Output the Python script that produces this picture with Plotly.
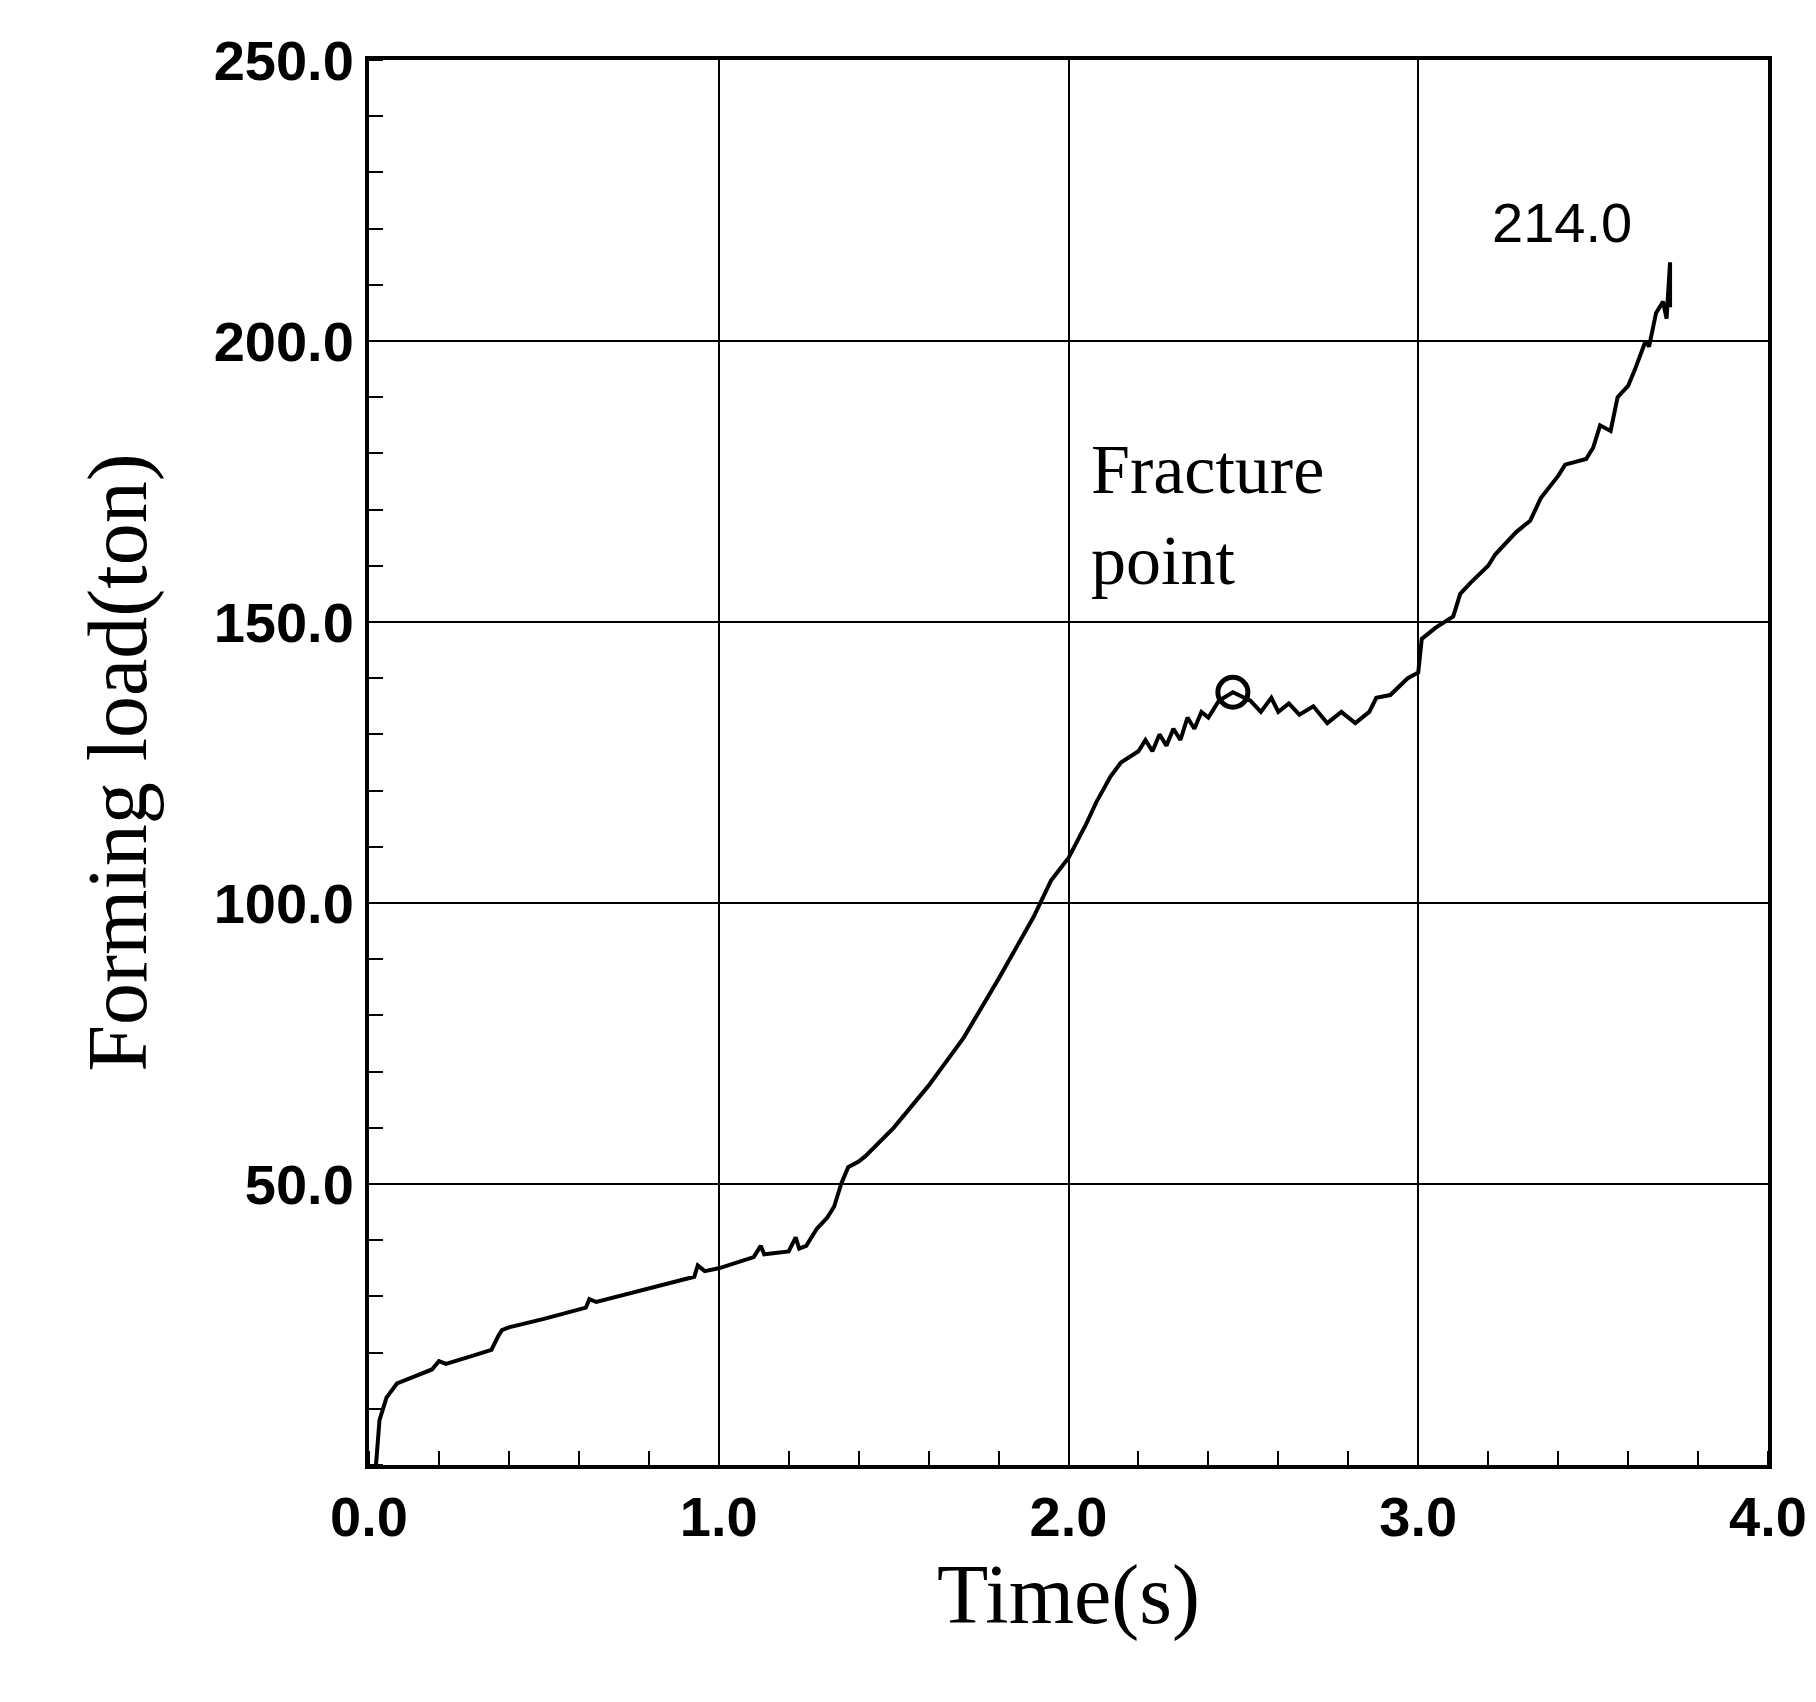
import plotly.graph_objects as go

# Forming load curve
time_s = [0.02, 0.03, 0.05, 0.08, 0.12, 0.18, 0.2, 0.22, 0.3, 0.33, 0.35, 0.37, 0.38, 0.4, 0.5,
          0.62, 0.63, 0.65, 0.8, 0.93, 0.94, 0.96, 1.0, 1.1, 1.12, 1.13, 1.2, 1.22, 1.23, 1.25,
          1.28, 1.31, 1.33, 1.35, 1.37, 1.4, 1.42, 1.5, 1.6, 1.7, 1.8, 1.9, 1.95, 2.0, 2.05,
          2.08, 2.12, 2.15, 2.2, 2.22, 2.24, 2.26, 2.28, 2.3, 2.32, 2.34, 2.36, 2.38, 2.4, 2.43,
          2.47, 2.52, 2.55, 2.58, 2.6, 2.63, 2.66, 2.7, 2.74, 2.78, 2.82, 2.86, 2.88, 2.92, 2.97,
          3.0, 3.01, 3.05, 3.1, 3.12, 3.15, 3.2, 3.22, 3.28, 3.32, 3.35, 3.4, 3.42, 3.48, 3.5,
          3.52, 3.55, 3.57, 3.6, 3.62, 3.65, 3.66, 3.68, 3.7, 3.71, 3.72, 3.72]
load_ton = [0, 8, 12, 14.5, 15.5, 17, 18.5, 18, 19.5, 20, 20.5, 23, 24, 24.5, 26,
            28, 29.5, 29, 31.5, 33.5, 35.5, 34.5, 35, 37, 39, 37.5, 38, 40.5, 38.5, 39,
            42, 44, 46, 50, 53, 54, 55, 60, 67.5, 76, 86.5, 97.5, 104, 108, 114,
            118, 122.5, 125, 127, 129, 127, 130, 128, 131, 129, 133, 131, 134, 133, 136,
            137.5, 136, 134, 136.5, 134, 135.5, 133.5, 135, 132, 134, 132, 134, 136.5, 137, 140,
            141, 147, 149, 151, 155, 157, 160, 162, 166, 168, 172, 176, 178, 179, 181,
            185, 184, 190, 192, 195, 200, 199, 205, 207, 204, 214, 206]

fracture_t = [2.47]
fracture_load = [137.5]

fig = go.Figure()
fig.add_trace(go.Scatter(x=time_s, y=load_ton, mode="lines",
                         line=dict(color="black", width=4), showlegend=False))
fig.add_trace(go.Scatter(x=fracture_t, y=fracture_load, mode="markers",
                         marker=dict(symbol="circle-open", size=30, color="black",
                                     line=dict(width=5, color="black")),
                         showlegend=False))

fig.add_annotation(x=3.41, y=221, text="214.0", showarrow=False,
                   font=dict(family="Liberation Sans", size=56, color="black"))
fig.add_annotation(x=2.06, y=169, text="Fracture<br>point", showarrow=False, xanchor="left",
                   align="left", font=dict(family="Liberation Serif", size=70, color="black"))

tick_font = dict(family="Liberation Sans", size=56, color="black")
fig.update_xaxes(range=[0, 4], tickvals=[0, 1, 2, 3, 4],
                 ticktext=["<b>0.0</b>", "<b>1.0</b>", "<b>2.0</b>", "<b>3.0</b>", "<b>4.0</b>"],
                 tickfont=tick_font, showgrid=True, gridcolor="black", gridwidth=1.5,
                 showline=True, linecolor="black", linewidth=4, mirror=True, zeroline=False,
                 ticks="", minor=dict(dtick=0.2, ticks="inside", ticklen=14, tickcolor="black",
                                      tickwidth=1.5, showgrid=False),
                 title=dict(text="Time(s)", font=dict(family="Liberation Serif", size=84, color="black"),
                            standoff=0))
fig.update_yaxes(range=[0, 250], tickvals=[50, 100, 150, 200, 250],
                 ticktext=["<b>50.0</b>", "<b>100.0</b>", "<b>150.0</b>", "<b>200.0</b>", "<b>250.0</b>"],
                 tickfont=tick_font, showgrid=True, gridcolor="black", gridwidth=1.5,
                 showline=True, linecolor="black", linewidth=4, mirror=True, zeroline=False,
                 ticks="", minor=dict(dtick=10, ticks="inside", ticklen=14, tickcolor="black",
                                      tickwidth=1.5, showgrid=False),
                 title=dict(text="Forming load(ton)", font=dict(family="Liberation Serif", size=84, color="black"),
                            standoff=40))
fig.update_layout(width=1816, height=1702, plot_bgcolor="white", paper_bgcolor="white",
                  margin=dict(l=361, r=56, t=52, b=245))

fig.write_html("out.html")
